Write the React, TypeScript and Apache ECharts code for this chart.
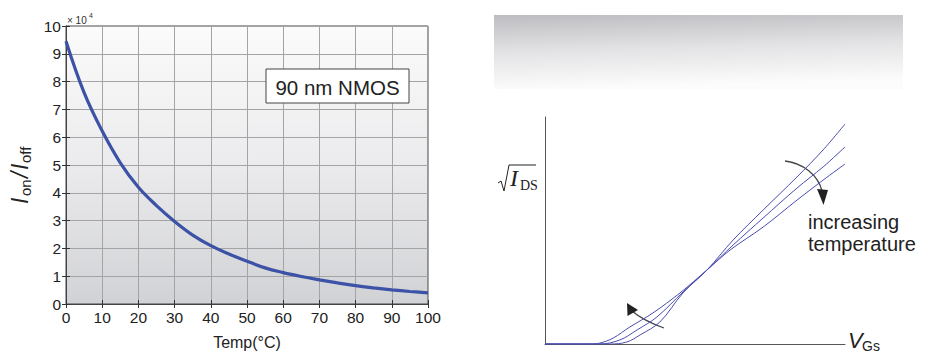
import React, { useEffect, useRef } from "react";
import * as echarts from "echarts";

// Left chart: Ion/Ioff vs temperature (×10^4)
const temps = [0, 5, 10, 15, 20, 25, 30, 35, 40, 45, 50, 55, 60, 65, 70, 75, 80, 85, 90, 95, 100];
const ionIoff = [9.45, 7.6, 6.22, 5.08, 4.2, 3.54, 2.97, 2.48, 2.1, 1.8, 1.54, 1.3, 1.13, 0.99, 0.87, 0.76, 0.66, 0.58, 0.51, 0.45, 0.4];
const xTicks = [0, 10, 20, 30, 40, 50, 60, 70, 80, 90, 100];
const yTicks = [0, 1, 2, 3, 4, 5, 6, 7, 8, 9, 10];

// Right chart: sqrt(IDS) vs VGS, three temperatures (arbitrary units)
const vgsHigh = [0, 15, 18.3, 22.7, 28.3, 36, 45, 54, 61.7, 72.7, 84, 92.7, 100];
const idsHigh = [0, 0, 0.4, 2.6, 7.5, 13.7, 22.5, 32.6, 41.4, 51.5, 63.4, 72.2, 79.3];
const vgsMid = [0, 18.3, 25, 30.7, 37.3, 46, 54, 62.7, 72.7, 84, 92.7, 100];
const idsMid = [0, 0, 1.8, 6.2, 11.9, 22.9, 32.6, 43.6, 55.5, 68.7, 78, 86.8];
const vgsLow = [0, 21.7, 27.3, 31.7, 38.3, 46, 54, 62.7, 72.7, 84, 92.7, 100];
const idsLow = [0, 0, 0.9, 4, 9.7, 22.5, 32.6, 45.8, 59, 73.6, 85.5, 96.9];

const FONT = "'Liberation Sans', Arial, Helvetica, sans-serif";
const SERIF = "'Liberation Serif', 'Times New Roman', serif";

const zip = (xs: number[], ys: number[]) => xs.map((x, i) => [x, ys[i]]);

export default function App() {
  const ref = useRef<HTMLDivElement>(null);
  useEffect(() => {
    if (!ref.current) return;
    const chart = echarts.init(ref.current, undefined, { renderer: "svg" });
    const tickStyle = { show: true, inside: true, length: 4, lineStyle: { color: "#333", width: 1 } };
    const rightCurve = (name: string, xs: number[], ys: number[]) => ({
      name,
      type: "line",
      xAxisIndex: 2,
      yAxisIndex: 2,
      data: zip(xs, ys),
      showSymbol: false,
      smooth: 0.35,
      lineStyle: { color: "#4a4db0", width: 1 },
    });
    chart.setOption({
      animation: false,
      backgroundColor: "#ffffff",
      textStyle: { fontFamily: FONT },
      grid: [
        {
          left: 66,
          top: 26,
          width: 362,
          height: 285,
          show: true,
          borderColor: "#444",
          borderWidth: 1,
          backgroundColor: new echarts.graphic.LinearGradient(0, 0, 0, 1, [
            { offset: 0, color: "#fbfbfb" },
            { offset: 0.5, color: "#ebebed" },
            { offset: 1, color: "#d1d2d5" },
          ]),
        },
        { left: 545, top: 117, width: 300, height: 227 },
      ],
      xAxis: [
        {
          gridIndex: 0,
          type: "value",
          min: 0,
          max: 100,
          interval: 10,
          position: "bottom",
          axisLine: { show: true, lineStyle: { color: "#444" } },
          axisTick: tickStyle,
          axisLabel: {
            color: "#222",
            fontSize: 15.5,
            margin: 5,
            fontFamily: FONT,
            customValues: xTicks,
          },
          splitLine: { show: true, lineStyle: { color: "#a4a4a6", width: 1 } },
          name: "Temp(°C)",
          nameLocation: "middle",
          nameGap: 30,
          nameTextStyle: { color: "#222", fontSize: 16, fontFamily: FONT },
        },
        {
          gridIndex: 0,
          type: "value",
          min: 0,
          max: 100,
          interval: 10,
          position: "top",
          axisLine: { show: true, lineStyle: { color: "#444" } },
          axisTick: tickStyle,
          axisLabel: { show: false },
          splitLine: { show: false },
        },
        {
          gridIndex: 1,
          type: "value",
          min: 0,
          max: 100,
          axisLine: { show: true, lineStyle: { color: "#555", width: 1 } },
          axisTick: { show: false },
          axisLabel: { show: false },
          splitLine: { show: false },
        },
      ],
      yAxis: [
        {
          gridIndex: 0,
          type: "value",
          min: 0,
          max: 10,
          interval: 1,
          position: "left",
          axisLine: { show: true, lineStyle: { color: "#444" } },
          axisTick: tickStyle,
          axisLabel: {
            color: "#222",
            fontSize: 15.5,
            margin: 5,
            fontFamily: FONT,
            customValues: yTicks,
          },
          splitLine: { show: true, lineStyle: { color: "#a4a4a6", width: 1 } },
        },
        {
          gridIndex: 0,
          type: "value",
          min: 0,
          max: 10,
          interval: 1,
          position: "right",
          axisLine: { show: true, lineStyle: { color: "#444" } },
          axisTick: tickStyle,
          axisLabel: { show: false },
          splitLine: { show: false },
        },
        {
          gridIndex: 1,
          type: "value",
          min: 0,
          max: 100,
          axisLine: { show: true, lineStyle: { color: "#555", width: 1 } },
          axisTick: { show: false },
          axisLabel: { show: false },
          splitLine: { show: false },
        },
      ],
      series: [
        {
          name: "Ion/Ioff",
          type: "line",
          xAxisIndex: 0,
          yAxisIndex: 0,
          data: zip(temps, ionIoff),
          showSymbol: false,
          smooth: 0.4,
          lineStyle: { color: "#3b52a6", width: 3.2 },
        },
        rightCurve("high T", vgsHigh, idsHigh),
        rightCurve("mid T", vgsMid, idsMid),
        rightCurve("low T", vgsLow, idsLow),
      ],
      graphic: [
        // ×10^4 multiplier
        {
          type: "text",
          x: 67,
          y: 20,
          style: { text: "× 10", fontSize: 10, fill: "#333", fontFamily: FONT, verticalAlign: "middle" },
        },
        {
          type: "text",
          x: 89,
          y: 15,
          style: { text: "4", fontSize: 7, fill: "#333", fontFamily: FONT, verticalAlign: "middle" },
        },
        // y-axis title Ion/Ioff (rotated)
        {
          type: "group",
          x: 20,
          y: 204,
          rotation: Math.PI / 2,
          children: [
            { type: "text", x: 0, y: 0, style: { text: "I", fontSize: 23, fontStyle: "italic", fill: "#222", fontFamily: FONT, verticalAlign: "middle" } },
            { type: "text", x: 8, y: 5, style: { text: "on", fontSize: 15, fill: "#222", fontFamily: FONT, verticalAlign: "middle" } },
            { type: "text", x: 26, y: 0, style: { text: "/", fontSize: 23, fontStyle: "italic", fill: "#222", fontFamily: FONT, verticalAlign: "middle" } },
            { type: "text", x: 34, y: 0, style: { text: "I", fontSize: 23, fontStyle: "italic", fill: "#222", fontFamily: FONT, verticalAlign: "middle" } },
            { type: "text", x: 41, y: 5, style: { text: "off", fontSize: 15, fill: "#222", fontFamily: FONT, verticalAlign: "middle" } },
          ],
        },
        // 90 nm NMOS box
        {
          type: "rect",
          shape: { x: 266, y: 69, width: 143, height: 34 },
          style: { fill: "#ffffff", stroke: "#444", lineWidth: 1 },
          z: 10,
        },
        {
          type: "text",
          x: 337.5,
          y: 87,
          z: 11,
          style: { text: "90 nm NMOS", fontSize: 20.5, fill: "#222", fontFamily: FONT, align: "center", verticalAlign: "middle" },
        },
        // right gradient banner
        {
          type: "rect",
          shape: { x: 494, y: 15, width: 409, height: 74 },
          style: {
            fill: new echarts.graphic.LinearGradient(0, 0, 0.15, 1, [
              { offset: 0, color: "#bdbdc1" },
              { offset: 0.5, color: "#e3e3e5" },
              { offset: 1, color: "#fcfcfc" },
            ]),
          },
        },
        // sqrt(I_DS) label
        {
          type: "polyline",
          shape: { points: [[498, 183], [501, 181], [504, 191], [509, 165], [536, 165]] },
          style: { stroke: "#222", lineWidth: 1, fill: "none" },
        },
        {
          type: "text",
          x: 510,
          y: 190,
          style: { text: "I", fontSize: 24, fontStyle: "italic", fill: "#222", fontFamily: SERIF, verticalAlign: "bottom" },
        },
        {
          type: "text",
          x: 520,
          y: 192,
          style: { text: "DS", fontSize: 14, fill: "#222", fontFamily: SERIF, verticalAlign: "bottom" },
        },
        // V_GS label
        {
          type: "text",
          x: 848,
          y: 351,
          style: { text: "V", fontSize: 22, fontStyle: "italic", fill: "#222", fontFamily: FONT, verticalAlign: "bottom" },
        },
        {
          type: "text",
          x: 862,
          y: 353,
          style: { text: "Gs", fontSize: 14, fill: "#222", fontFamily: FONT, verticalAlign: "bottom" },
        },
        // increasing temperature annotation
        {
          type: "text",
          x: 808,
          y: 222,
          style: { text: "increasing", fontSize: 20, fill: "#222", fontFamily: FONT, verticalAlign: "middle" },
        },
        {
          type: "text",
          x: 808,
          y: 244,
          style: { text: "temperature", fontSize: 20, fill: "#222", fontFamily: FONT, verticalAlign: "middle" },
        },
        // top arrow
        {
          type: "bezierCurve",
          shape: { x1: 785, y1: 161, cpx1: 803, cpy1: 163, cpx2: 818, cpy2: 175, x2: 822, y2: 191 },
          style: { stroke: "#444", lineWidth: 1.3, fill: "none" },
        },
        {
          type: "polygon",
          shape: { points: [[817, 189], [828, 190], [823.5, 205]] },
          style: { fill: "#222" },
        },
        // bottom arrow
        {
          type: "bezierCurve",
          shape: { x1: 664, y1: 328, cpx1: 650, cpy1: 323, cpx2: 639, cpy2: 317, x2: 632, y2: 311 },
          style: { stroke: "#444", lineWidth: 1.3, fill: "none" },
        },
        {
          type: "polygon",
          shape: { points: [[627, 303], [627.5, 316], [638, 310]] },
          style: { fill: "#222" },
        },
      ],
    });
    return () => chart.dispose();
  }, []);
  return (
    <div
      ref={ref}
      style={{ position: "fixed", left: 0, top: 0, width: 926, height: 355 }}
    />
  );
}
